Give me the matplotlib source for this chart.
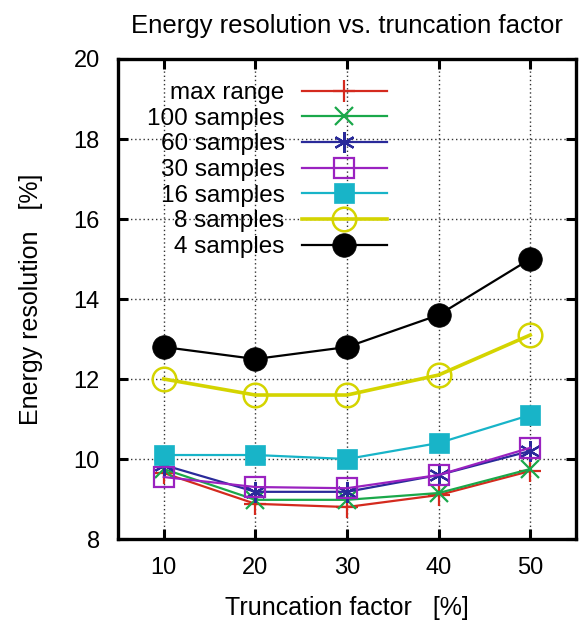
import matplotlib
matplotlib.use('Agg')
from matplotlib import pyplot as plt

plt.rcParams['font.family'] = ['Liberation Sans', 'DejaVu Sans']

truncation = [10, 20, 30, 40, 50]

labels = ['max range', '100 samples', '60 samples', '30 samples',
          '16 samples', '8 samples', '4 samples']
max_range = [9.65, 8.88, 8.8, 9.1, 9.7]
s100 = [9.75, 8.98, 8.98, 9.15, 9.75]
s60 = [9.85, 9.18, 9.18, 9.6, 10.2]
s30 = [9.55, 9.3, 9.27, 9.6, 10.28]
s16 = [10.1, 10.1, 10.0, 10.4, 11.1]
s8 = [12.0, 11.6, 11.6, 12.1, 13.1]
s4 = [12.8, 12.5, 12.8, 13.6, 15.0]

series = [max_range, s100, s60, s30, s16, s8, s4]
colores = ['#d42a1e', '#1aa84a', '#2a2a9a', '#9a22c0', '#18b4c8', '#d4d400', 'black']
# estilo de cada curva: marcador, tamaño, relleno, grosor
estilos = [
    dict(marker='+', ms=16, mew=1.6, lw=1.6),
    dict(marker='x', ms=13, mew=1.6, lw=1.6),
    dict(marker=(6, 2, 0), ms=15, mew=1.6, lw=1.6),
    dict(marker='s', ms=14, mew=1.6, lw=1.6, mfc='none'),
    dict(marker='s', ms=15, mew=0.5, lw=1.6),
    dict(marker='o', ms=17, mew=1.8, lw=2.6, mfc='none'),
    dict(marker='o', ms=17, mew=0.5, lw=1.6),
]

fig = plt.figure(figsize=(5.84, 6.21), dpi=100)
ax = fig.add_axes([0.2020, 0.1320, 0.7843, 0.773])

for datos, etiqueta, color, est in zip(series, labels, colores, estilos):
    ax.plot(truncation, datos, color=color, label=etiqueta, **est)

ax.set_xlim(5, 55)
ax.set_ylim(8, 20)
ax.set_xticks(truncation)
ax.set_yticks([8, 10, 12, 14, 16, 18, 20])
ax.tick_params(direction='in', length=7, width=2.2, labelsize=17,
               top=True, right=True, pad=13)
ax.grid(True, color='#333333', linestyle=(0, (1, 2)), linewidth=1.0)
ax.set_axisbelow(True)
for lado in ax.spines.values():
    lado.set_linewidth(2.4)

ax.set_title('Energy resolution vs. truncation factor', fontsize=18.5, pad=19)
ax.set_xlabel('Truncation factor   [%]', fontsize=18, labelpad=12)
ax.set_ylabel('Energy resolution   [%]', fontsize=18, labelpad=22)

ax.legend(loc='upper right', bbox_to_anchor=(0.587, 0.952), frameon=False,
          markerfirst=False, fontsize=17.5, labelspacing=0.15,
          handlelength=3.5, handletextpad=0.7, borderpad=0, borderaxespad=0)

plt.savefig('out.png', dpi=100)
